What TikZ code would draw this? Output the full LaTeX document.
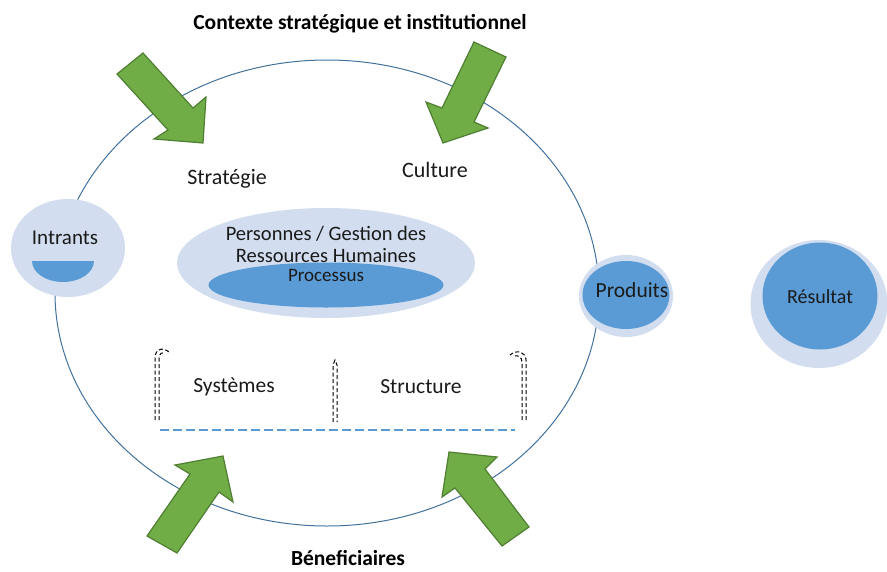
\documentclass[tikz,border=0pt]{standalone}
\usepackage{fontspec}
\setmainfont{Carlito}
\usetikzlibrary{shapes.geometric}
\definecolor{ringblue}{HTML}{41719C}
\definecolor{paleblue}{HTML}{D2DEEF}
\definecolor{midblue}{HTML}{5B9BD5}
\definecolor{arrowgreen}{HTML}{70AD47}
\definecolor{arrowedge}{HTML}{507E32}
\definecolor{ink}{HTML}{1A1A1A}
\newcommand{\sz}[1]{\fontsize{#1}{22}\selectfont}
\begin{document}
\begin{tikzpicture}[x=1pt,y=-1pt,
  lbl/.style={font=\sz{21.5}, text=ink, inner sep=0pt, align=center},
  heading/.style={font=\bfseries\sz{21.5}, text=black, inner sep=0pt},
  blockarrow/.style={fill=arrowgreen, draw=arrowedge, line width=1.2pt, line join=miter},
  pale/.style={ellipse, fill=paleblue, inner sep=0pt},
  deep/.style={ellipse, fill=midblue, inner sep=0pt},
  guide/.style={draw=black, line width=1pt, dash pattern=on 4pt off 2.5pt}
]
\useasboundingbox (0,0) rectangle (887,571);

% organisation boundary
\node[ellipse, draw=ringblue, line width=1pt, inner sep=0pt,
      minimum width=544pt, minimum height=466pt] (org) at (327,293) {};

% strategic / institutional context arrows (top)
\draw[blockarrow] (117,74) -- (143,53) -- (193,108) -- (206,97) -- (203,143)
  -- (154,139) -- (168,130) -- cycle;
\draw[blockarrow] (474,42) -- (506,57) -- (474,122) -- (488,128) -- (443,143)
  -- (426,102) -- (442,108) -- cycle;

% beneficiaries arrows (bottom)
\draw[blockarrow] (147,536) -- (177,553) -- (219,492) -- (233,502) -- (223,456)
  -- (175,465) -- (190,474) -- cycle;
\draw[blockarrow] (529,527) -- (502,546) -- (455,488) -- (442,497) -- (449,452)
  -- (497,457) -- (485,469) -- cycle;

% inputs
\node[pale, minimum width=114pt, minimum height=98pt] (intrants) at (68,248) {};
\begin{scope}
  \clip (28,261) rectangle (100,290);
  \node[deep, minimum width=62pt, minimum height=42pt] (bowl) at (63,261) {};
\end{scope}
\node[lbl, font=\sz{21}] (intrantsTxt) at (65,238) {Intrants};

% outputs
\node[pale, minimum width=94pt, minimum height=82pt] (produitsRing) at (626,296) {};
\node[deep, minimum width=87pt, minimum height=68pt] (produits) at (626,295) {};
\node[lbl] (produitsTxt) at (632,290) {Produits};

% result
\node[pale, minimum width=137pt, minimum height=128pt] (resultatRing) at (819,304) {};
\node[deep, minimum width=115pt, minimum height=107pt] (resultat) at (820,296) {};
\node[lbl, font=\sz{20}] (resultatTxt) at (820,297) {Résultat};

% people and processes
\node[pale, minimum width=298pt, minimum height=110pt] (personnes) at (326,263) {};
\node[deep, minimum width=235pt, minimum height=45pt] (processus) at (326,285) {};
\node[lbl, font=\sz{20.5}] (personnesTxt) at (326,244) {Personnes / Gestion des\\Ressources Humaines};
\node[lbl, font=\sz{19}] (processusTxt) at (326,275) {Processus};

% labels inside the organisation
\node[lbl, font=\sz{22}] (strategie) at (227,179) {Stratégie};
\node[lbl, font=\sz{22}] (culture) at (435,170) {Culture};
\node[lbl] (systemes) at (234,387) {Systèmes};
\node[lbl] (structure) at (421,387) {Structure};

% systems / structure guides
\coordinate (baseL) at (160,430);
\coordinate (baseR) at (515,430);
\draw[midblue, line width=2.2pt, dash pattern=on 9pt off 4pt] (baseL) -- (baseR);

\draw[guide] (155,420) -- (155,358) .. controls (155,349) and (163,346) .. (170,353);
\draw[guide] (159,420) -- (159,358) .. controls (159,354) and (162,352) .. (165,352);
\draw[guide] (333,422) -- (333,365) -- (335,360) -- (337,365) -- (337,422);
\draw[guide] (526,420) -- (526,360) .. controls (526,352) and (517,349) .. (510,355);
\draw[guide] (522,420) -- (522,362) .. controls (522,357) and (518,355) .. (515,356);

% headings
\node[heading] (contexte) at (360,24) {Contexte stratégique et institutionnel};
\node[heading, font=\bfseries\sz{21.5}, anchor=base] (beneficiaires) at (348,565) {Béneficiaires};
\end{tikzpicture}
\end{document}
